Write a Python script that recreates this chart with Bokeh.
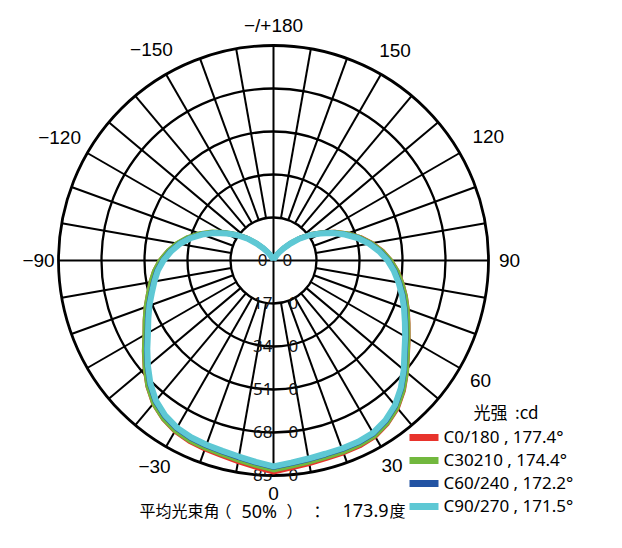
import numpy as np
from bokeh.plotting import figure
from bokeh.models import Range1d
from bokeh.embed import file_html
from bokeh.resources import INLINE
from bokeh.core.properties import value

# ---------------- data ----------------
gamma = list(range(0, 181, 5))

# C0 / C180 (red)
c0_right = [838, 825, 817, 812, 811, 810, 805, 788, 764, 729, 689, 649, 617, 589, 565, 542, 518, 494, 466,
            434, 397, 357, 312, 268, 223, 182, 141, 100, 67, 43, 26, 13, 9, 4, 2, 0, 0]
c180_left = [838, 822, 809, 800, 795, 790, 781, 764, 740, 705, 665, 626, 589, 562, 538, 514, 494, 474, 450,
             421, 389, 352, 311, 267, 222, 181, 140, 100, 66, 42, 25, 13, 9, 4, 2, 0, 0]
# C30 / C210 (green)
c30_right = [828, 816, 809, 805, 805, 804, 800, 784, 760, 725, 686, 646, 614, 586, 562, 539, 515, 491, 463,
             430, 393, 353, 309, 265, 220, 180, 139, 99, 66, 42, 25, 13, 9, 4, 2, 0, 0]
c210_left = [828, 813, 801, 793, 789, 785, 777, 761, 737, 702, 662, 623, 587, 560, 536, 512, 492, 472, 448,
             419, 387, 351, 310, 266, 221, 180, 139, 99, 66, 42, 25, 13, 9, 4, 2, 0, 0]
# C60 / C240 (blue)
c60_right = [818, 806, 799, 795, 795, 795, 791, 775, 751, 716, 676, 636, 605, 577, 553, 530, 506, 482, 455,
             423, 387, 347, 303, 260, 216, 176, 136, 97, 64, 41, 24, 12, 8, 4, 2, 0, 0]
c240_left = [818, 803, 791, 783, 779, 775, 767, 751, 727, 692, 652, 613, 577, 550, 526, 502, 482, 463, 439,
             411, 380, 343, 303, 260, 216, 176, 136, 97, 64, 41, 24, 12, 8, 4, 2, 0, 0]
# C90 / C270 (cyan)
c90_right = [814, 802, 795, 791, 791, 791, 787, 771, 747, 712, 672, 632, 601, 573, 549, 526, 502, 478, 451,
             419, 383, 344, 300, 257, 213, 174, 134, 95, 63, 40, 24, 12, 8, 4, 2, 0, 0]
c270_left = [814, 799, 787, 779, 775, 771, 763, 747, 723, 688, 648, 609, 573, 546, 522, 498, 478, 459, 435,
             407, 376, 340, 300, 257, 213, 174, 134, 95, 63, 40, 24, 12, 8, 4, 2, 0, 0]

rings = [0, 170, 340, 510, 680, 850]
angle_ticks = [0, 30, 60, 90, 120, 150, 180, -150, -120, -90, -30]
angle_tick_labels = ["0", "30", "60", "90", "120", "150", "\u2212/+180", "\u2212150", "\u2212120", "\u221290", "\u221230"]

series_names = ["C0/180", "C30210", "C60/240", "C90/270"]
beam_angles = [177.4, 174.4, 172.2, 171.5]
avg_beam = 173.9
avg_label = "平均光束角"
avg_pct = "50%"
avg_unit = "度"
unit_title = "光强\u00a0\u00a0:cd"

colors = ["#e8332c", "#72b83e", "#2253a3", "#5ec8d4"]
widths = [4, 5, 5, 6]

# ---------------- layout ----------------
W, H = 614, 540
CX, CY = 273, 260          # screenshot px of the polar centre
RMAX_PX = 215.0
s = rings[-1] / RMAX_PX    # cd per pixel


def X(px):
    return (px - CX) * s


def Y(py):
    return (CY - py) * s


p = figure(width=W, height=H, output_backend="svg", toolbar_location=None,
           x_range=Range1d(X(0), X(W)), y_range=Range1d(Y(H), Y(0)),
           x_axis_type=None, y_axis_type=None, min_border=0)
p.grid.visible = False
p.outline_line_color = None
p.background_fill_color = "white"


def polar(r, deg):
    t = np.radians(np.asarray(deg, dtype=float))
    r = np.asarray(r, dtype=float)
    return r * np.sin(t), -r * np.cos(t)


# rings
ring_r = rings[1:]
p.circle(x=[0] * len(ring_r), y=[0] * len(ring_r), radius=ring_r,
         fill_color=None, line_color="black",
         line_width=[2.3, 2.3, 2.3, 2.3, 2.8])

# spokes
x0s, y0s, x1s, y1s = [], [], [], []
for a in range(-170, 181, 10):
    r0 = 0 if a % 90 == 0 else rings[1]
    xa, ya = polar([r0, rings[-1]], [a, a])
    x0s.append(xa[0]); y0s.append(ya[0]); x1s.append(xa[1]); y1s.append(ya[1])
p.segment(x0s, y0s, x1s, y1s, line_color="black", line_width=2)

# ring labels
left_txt = [str(v)[:-1] if v else "0" for v in rings]
left_dx = [-6 if v == 0 else -1 for v in rings]
right_dx = [9 if v == 0 else 15 for v in rings]
p.text(x=[d * s for d in left_dx], y=[-v + 1 * s for v in rings], text=left_txt,
       text_align="right", text_baseline="alphabetic", text_font=value("Noto Sans"),
       text_font_size="17px", text_color="#111111")
p.text(x=[d * s for d in right_dx], y=[-v + 1 * s for v in rings], text=["0"] * len(rings),
       text_align="left", text_baseline="alphabetic", text_font=value("Noto Sans"),
       text_font_size="17px", text_color="#111111")

# angle labels
label_r_px = [233, 237, 239, 236, 248, 243, 235, 244, 247, 235, 238]
lx, ly = polar([r * s for r in label_r_px], angle_ticks)
p.text(x=lx, y=ly, text=angle_tick_labels, text_align="center", text_baseline="middle",
       text_font=value("Liberation Sans"), text_font_size="19px", text_color="black")

# curves
series = [(c180_left, c0_right), (c210_left, c30_right), (c240_left, c60_right), (c270_left, c90_right)]
for (left, right), col, lw in zip(series, colors, widths):
    angs = [-g for g in gamma[::-1]] + gamma[1:]
    vals = list(left[::-1]) + list(right[1:])
    xs, ys = polar(vals, angs)
    p.line(xs, ys, line_color=col, line_width=lw)

# legend
p.text(x=[X(473)], y=[Y(411)], text=[unit_title], text_align="left", text_baseline="middle",
       text_font=value("Noto Sans CJK SC"), text_font_size="17px", text_color="black")
leg_y = [437 + 23 * i for i in range(len(series_names))]
p.rect(x=[X(423.5)] * 4, y=[Y(v) for v in leg_y], width=29 * s, height=7 * s,
       fill_color=colors, line_color=None)
p.text(x=[X(443)] * 4, y=[Y(v - 1) for v in leg_y],
       text=[f"{n} , {b}\u00b0" for n, b in zip(series_names, beam_angles)],
       text_align="left", text_baseline="middle", text_font=value("Noto Sans"),
       text_font_size="17px", text_color="black")

# average beam angle (set piecewise to keep the wide punctuation spacing)
cjk_pieces = [avg_label, "（", "）", "：", avg_unit]
cjk_x = [139, 215, 286, 313, 389]
p.text(x=[X(v) for v in cjk_x], y=[Y(509)] * len(cjk_pieces), text=cjk_pieces,
       text_align="left", text_baseline="middle", text_font=value("Noto Sans CJK SC"),
       text_font_size="16px", text_color="black")
lat_pieces = [avg_pct, f"{avg_beam}"]
lat_x = [241, 342]
p.text(x=[X(v) for v in lat_x], y=[Y(510)] * len(lat_pieces), text=lat_pieces,
       text_align="left", text_baseline="middle", text_font=value("Noto Sans"),
       text_font_size="18px", text_color="black")

open("out.html", "w").write(file_html(p, INLINE))
